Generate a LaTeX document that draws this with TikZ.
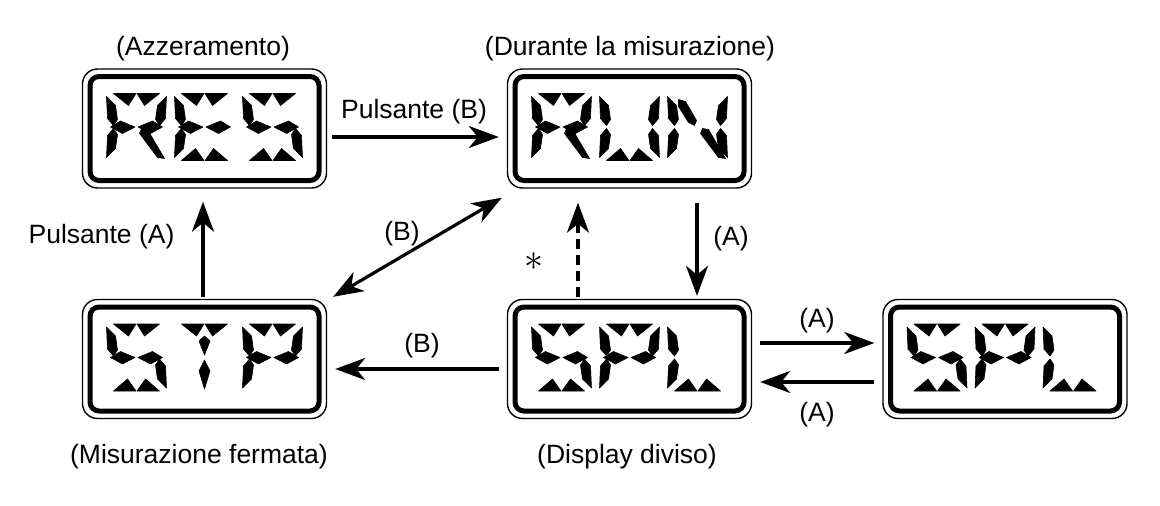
\documentclass[tikz,border=0pt]{standalone}
\usepackage{fontspec}
\setmainfont{Liberation Sans}
\usetikzlibrary{arrows.meta}
% 16-segment LCD glyph pieces (local pixel frame, y downward)
\expandafter\def\csname sga1\endcsname{(7,0) -- (29.5,0) -- (22,12) -- cycle}
\expandafter\def\csname sga2\endcsname{(30.5,0) -- (53,0) -- (38,12) -- cycle}
\expandafter\def\csname sgd1\endcsname{(7,67) -- (29.5,67) -- (21,55) -- cycle}
\expandafter\def\csname sgd2\endcsname{(30.5,67) -- (53,67) -- (39,55) -- cycle}
\expandafter\def\csname sgf\endcsname{(0,3) -- (9,12) -- (11,26) -- (7,32) -- (1,25) -- cycle}
\expandafter\def\csname sge\endcsname{(0,64) -- (9,55) -- (11,41) -- (7,35) -- (1,42) -- cycle}
\expandafter\def\csname sgb\endcsname{(60,3) -- (51,12) -- (49,26) -- (53,32) -- (59,25) -- cycle}
\expandafter\def\csname sgc\endcsname{(60,64) -- (51,55) -- (49,41) -- (53,35) -- (59,42) -- cycle}
\expandafter\def\csname sgg1\endcsname{(4,33.5) -- (14,27.5) -- (28.5,33.5) -- (16,40) -- cycle}
\expandafter\def\csname sgg2\endcsname{(56,33.5) -- (46,27.5) -- (31.5,33.5) -- (44,40) -- cycle}
\expandafter\def\csname sgh\endcsname{(11,6) -- (18,8) -- (29,27) -- (27,32) -- (21,29) -- (11,13) -- cycle}
\expandafter\def\csname sgm\endcsname{(58,65) -- (51,64) -- (33,40) -- (35,35) -- (41,36) -- cycle}
\expandafter\def\csname sgi\endcsname{(30,12) -- (35.5,17) -- (30,31) -- (24.5,17) -- cycle}
\expandafter\def\csname sgl\endcsname{(30,36) -- (35.5,47) -- (30,65) -- (24.5,47) -- cycle}
\def\chR{a1,a2,f,b,g1,g2,e,m}
\def\chE{a1,a2,f,g1,g2,e,d1,d2}
\def\chS{a1,a2,f,g1,g2,c,d1,d2}
\def\chU{f,e,d1,d2,b,c}
\def\chN{f,e,h,m,b,c}
\def\chT{a1,a2,i,l}
\def\chP{a1,a2,f,b,g1,g2,e}
\def\chL{f,e,d1,d2}
\newcommand\lcdseg[1]{\edef\lcdtmp{\noexpand\fill[lcdfg] \csname sg#1\endcsname;}\lcdtmp}
\newcommand\lcdglyph[3]{\begin{scope}[shift={({#1},{#2})}]\foreach \s in #3 {\lcdseg{\s}}\end{scope}}
\newcommand\lcdword[5]{\lcdglyph{#1-98}{#2-35}{#3}\lcdglyph{#1-30}{#2-35}{#4}\lcdglyph{#1+38}{#2-35}{#5}}
\begin{document}
\begin{tikzpicture}[x=1pt,y=-1pt,
  lcdbox/.style={draw, line width=1.4pt, rounded corners=15pt, minimum width=244pt, minimum height=119pt, inner sep=0pt},
  lcdframe/.style={draw, line width=5pt, rounded corners=9pt, minimum width=229pt, minimum height=104pt, inner sep=0pt},
  lcdfg/.style={fill=black, draw=black, line width=0.6pt, line join=round},
  lbl/.style={font=\fontsize{26.5}{30}\selectfont, inner sep=0pt, anchor=base},
  arr/.style={line width=3.2pt, -{Stealth[length=30pt,width=22pt,inset=9pt]}},
  dblarr/.style={line width=3.2pt, {Stealth[length=30pt,width=22pt,inset=9pt]}-{Stealth[length=30pt,width=22pt,inset=9pt]}},
  dasharr/.style={arr, dash pattern=on 10pt off 6pt}]
\useasboundingbox (0,0) rectangle (1160,506);
% displays
\node[lcdbox] (res) at (204.5,128.5) {};
\node[lcdframe] (resf) at (res) {};
\node[lcdbox] (run) at (629.5,128.5) {};
\node[lcdframe] (runf) at (run) {};
\node[lcdbox] (stp) at (204.5,359) {};
\node[lcdframe] (stpf) at (stp) {};
\node[lcdbox] (spl) at (629.5,359) {};
\node[lcdframe] (splf) at (spl) {};
\node[lcdbox] (spl2) at (1005,359) {};
\node[lcdframe] (spl2f) at (spl2) {};
\lcdword{204.5}{128.5}{\chR}{\chE}{\chS}
\lcdword{629.5}{128.5}{\chR}{\chU}{\chN}
\lcdword{204.5}{359}{\chS}{\chT}{\chP}
\lcdword{629.5}{359}{\chS}{\chP}{\chL}
\lcdword{1005}{359}{\chS}{\chP}{\chL}
% captions
\node[lbl] (lres) at (203,55) {(Azzeramento)};
\node[lbl] (lrun) at (630,55) {(Durante la misurazione)};
\node[lbl] (lstp) at (199,463) {(Misurazione fermata)};
\node[lbl] (lspl) at (627,463) {(Display diviso)};
% arrow labels
\node[lbl] (lpb) at (414,118) {Pulsante (B)};
\node[lbl] (lpa) at (101.5,243) {Pulsante (A)};
\node[lbl] (lb1) at (402,240) {(B)};
\node[lbl] (la1) at (731,245) {(A)};
\node[scale=3.8, inner sep=0pt] (ast) at (534,262) {$\ast$};
\node[lbl] (lb2) at (422,352) {(B)};
\node[lbl] (la2) at (817,327) {(A)};
\node[lbl] (la3) at (817,421) {(A)};
% connectors
\draw[arr, shorten <=5pt, shorten >=8pt] ([yshift=-8.5pt]res.east) -- ([yshift=-8.5pt]run.west);
\draw[arr, shorten <=2pt, shorten >=13pt] ([xshift=-1.5pt]stp.north) -- ([xshift=-1.5pt]res.south);
\draw[dblarr] ([shift={(6,-2)}]stp.north east) -- ([shift={(-5,9)}]run.south west);
\draw[arr, shorten <=14pt, shorten >=3pt] ([xshift=67.5pt]run.south) -- ([xshift=67.5pt]spl.north);
\draw[dasharr, shorten <=2pt, shorten >=14pt] ([xshift=-51.5pt]spl.north) -- ([xshift=-51.5pt]run.south);
\draw[arr, shorten <=8pt, shorten >=8pt] ([yshift=-10pt]spl.west) -- ([yshift=-10pt]stp.east);
\draw[arr, shorten <=8pt, shorten >=8pt] ([yshift=16pt]spl.east) -- ([yshift=16pt]spl2.west);
\draw[arr, shorten <=8pt, shorten >=8pt] ([yshift=-23pt]spl2.west) -- ([yshift=-23pt]spl.east);
\end{tikzpicture}
\end{document}
